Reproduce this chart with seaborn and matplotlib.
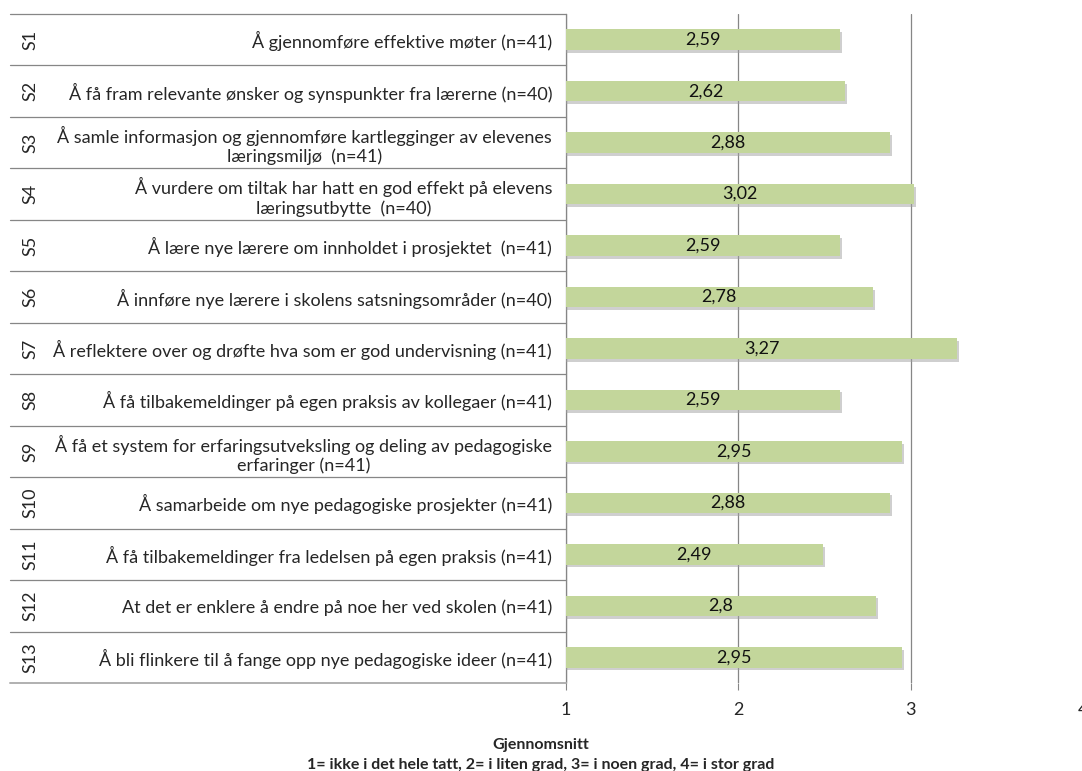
import matplotlib
matplotlib.use("Agg")
import matplotlib.pyplot as plt
import matplotlib.transforms as mtransforms
import matplotlib.patheffects as pe
import seaborn as sns
import pandas as pd

codes = ["S1", "S2", "S3", "S4", "S5", "S6", "S7", "S8", "S9", "S10", "S11", "S12", "S13"]
labels = [
    "Å gjennomføre effektive møter (n=41)",
    "Å få fram relevante ønsker og synspunkter fra lærerne (n=40)",
    "Å samle informasjon og gjennomføre kartlegginger av elevenes\nlæringsmiljø  (n=41)",
    "Å vurdere om tiltak har hatt en god effekt på elevens\nlæringsutbytte  (n=40)",
    "Å lære nye lærere om innholdet i prosjektet  (n=41)",
    "Å innføre nye lærere i skolens satsningsområder (n=40)",
    "Å reflektere over og drøfte hva som er god undervisning (n=41)",
    "Å få tilbakemeldinger på egen praksis av kollegaer (n=41)",
    "Å få et system for erfaringsutveksling og deling av pedagogiske\nerfaringer (n=41)",
    "Å samarbeide om nye pedagogiske prosjekter (n=41)",
    "Å få tilbakemeldinger fra ledelsen på egen praksis (n=41)",
    "At det er enklere å endre på noe her ved skolen (n=41)",
    "Å bli flinkere til å fange opp nye pedagogiske ideer (n=41)",
]
values = [2.59, 2.62, 2.88, 3.02, 2.59, 2.78, 3.27, 2.59, 2.95, 2.88, 2.49, 2.80, 2.95]
value_text = ["2,59", "2,62", "2,88", "3,02", "2,59", "2,78", "3,27", "2,59", "2,95", "2,88", "2,49", "2,8", "2,95"]
xticks = [1, 2, 3, 4]
xlabel_lines = ["Gjennomsnitt", "1= ikke i det hele tatt, 2= i liten grad, 3= i noen grad, 4= i stor grad"]

sns.set_theme(style="white")
plt.rcParams["font.family"] = ["Lato", "DejaVu Sans"]

df = pd.DataFrame({"label": labels, "value": values})

W, H = 1082, 771
fig = plt.figure(figsize=(W / 100, H / 100), dpi=100)
ax_left, ax_right, ax_top, ax_bot = 566, 1083, 14, 683
ax = fig.add_axes([ax_left / W, 1 - ax_bot / H, (ax_right - ax_left) / W, (ax_bot - ax_top) / H])

FS = 13
bar_color = "#C3D69B"
sns.barplot(data=df, x="value", y="label", orient="h", color=bar_color, width=0.4,
            saturation=1, ax=ax, zorder=3)
for p in ax.patches:
    p.set_path_effects([pe.SimplePatchShadow(offset=(1.5, -2), shadow_rgbFace="#a0a0a0", alpha=0.5),
                        pe.Normal()])
    p.set_edgecolor("none")

ax.bar_label(ax.containers[0], labels=value_text, label_type="center", fontsize=FS, color="#111111")

ax.set_xlim(1, 4)
ax.set_ylim(len(labels) - 0.5, -0.5)
ax.set_xticks(xticks)
ax.set_xticklabels([str(t) for t in xticks], fontsize=FS)
ax.tick_params(axis="x", length=5, color="#868686", width=0.8, pad=9, bottom=True)
ax.tick_params(axis="y", length=0, pad=10)
ax.set_yticks(range(len(labels)))
ax.set_yticklabels(labels, fontsize=FS, ha="right")
for t in ax.get_yticklabels():
    t.set_multialignment("center")
ax.set_xlabel("")
ax.set_ylabel("")
ax.xaxis.grid(True, color="#868686", linewidth=0.9, zorder=0)
ax.set_axisbelow(True)
for s in ["top", "right", "bottom"]:
    ax.spines[s].set_visible(False)
ax.spines["left"].set_color("#868686")
ax.spines["left"].set_linewidth(0.9)

# category separators across the label area
trans = mtransforms.blended_transform_factory(ax.transAxes, ax.transData)
x_start = -(ax_left - 10) / (ax_right - ax_left)
for i in range(len(labels) + 1):
    y = i - 0.5
    lw = 1.4 if i == len(labels) else 0.9
    col = "#b0b0b0" if i == len(labels) else "#868686"
    ax.plot([x_start, 0], [y, y], transform=trans, color=col, linewidth=lw, clip_on=False, zorder=4)

x_code = -(ax_left - 30) / (ax_right - ax_left)
for i, c in enumerate(codes):
    ax.text(x_code, i, c, transform=trans, rotation=90, ha="center", va="center", fontsize=FS)

fig.text(541 / W, 1 - 745 / H, xlabel_lines[0], ha="center", va="center", fontsize=11.5, fontweight="bold")
fig.text(541 / W, 1 - 765 / H, xlabel_lines[1], ha="center", va="center", fontsize=11.5, fontweight="bold")

fig.savefig("out.png", dpi=100)
